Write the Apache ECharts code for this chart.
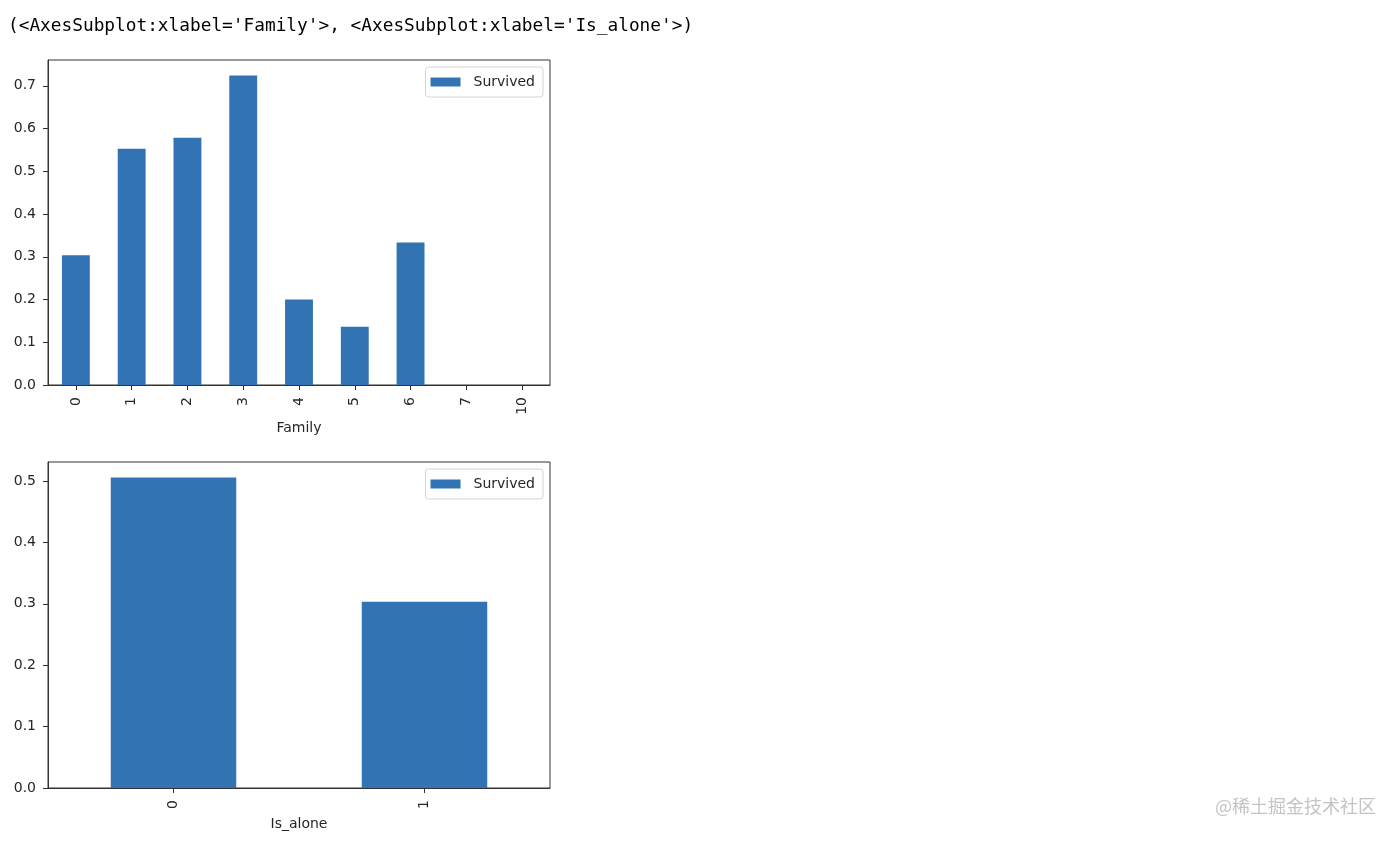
<!DOCTYPE html>
<html>
<head>
<meta charset="utf-8">
<script src="https://cdn.jsdelivr.net/npm/echarts@6/dist/echarts.min.js"></script>
<style>html,body{margin:0;padding:0;background:#fff;}#c{width:1399px;height:842px;}</style>
</head>
<body>
<div id="c"></div>
<script>
// Data
const familyCats = ['0','1','2','3','4','5','6','7','10'];
const familySurvived = [0.3035, 0.5528, 0.5784, 0.7241, 0.2, 0.1364, 0.3333, 0, 0];
const aloneCats = ['0','1'];
const aloneSurvived = [0.5056, 0.3035];
const yTicksTop = [0, 0.1, 0.2, 0.3, 0.4, 0.5, 0.6, 0.7];
const yTicksBottom = [0, 0.1, 0.2, 0.3, 0.4, 0.5];
const seriesName = 'Survived';
const headerText = "(<AxesSubplot:xlabel='Family'>, <AxesSubplot:xlabel='Is_alone'>)";
const watermark = '@稀土掘金技术社区';

const barColor = '#3274b3';
const font = 'DejaVu Sans';
const txt = '#262626';

function xAxis(gridIndex, cats, name, gap) {
  return {
    type: 'category', gridIndex, data: cats, name, nameLocation: 'middle', nameGap: gap,
    nameTextStyle: {fontFamily: font, fontSize: 14, color: txt},
    boundaryGap: true,
    axisLine: {show: true, lineStyle: {color: '#333', width: 1}},
    axisTick: {show: true, alignWithLabel: true, length: 5, lineStyle: {color: '#333'}},
    axisLabel: {rotate: 90, margin: 12, fontFamily: font, fontSize: 14, color: txt, interval: 0},
    splitLine: {show: false}
  };
}
function yAxis(gridIndex, max, ticks) {
  return {
    type: 'value', gridIndex, min: 0, max, interval: 0.1,
    axisLine: {show: true, lineStyle: {color: '#333', width: 1}},
    axisTick: {show: true, length: 5, lineStyle: {color: '#333'}, customValues: ticks},
    axisLabel: {margin: 12, fontFamily: font, fontSize: 14, color: txt, customValues: ticks,
      formatter: v => v.toFixed(1)},
    splitLine: {show: false}
  };
}
function legend(top) {
  return {
    data: [seriesName], right: 856, top, orient: 'vertical',
    backgroundColor: 'rgba(255,255,255,0.8)', borderColor: '#d5d5d5', borderWidth: 1, borderRadius: 3,
    padding: [8, 8, 8, 5], itemWidth: 30, itemHeight: 9, icon: 'rect',
    textStyle: {fontFamily: font, fontSize: 14, color: txt, padding: [0, 0, 0, 8]},
    selectedMode: false
  };
}

const chart = echarts.init(document.getElementById('c'), null, {renderer: 'canvas'});
chart.setOption({
  animation: false,
  backgroundColor: '#fff',
  grid: [
    {left: 48, top: 60, width: 502, height: 325, show: true, borderColor: '#333', borderWidth: 1, backgroundColor: 'transparent'},
    {left: 48, top: 462, width: 502, height: 326, show: true, borderColor: '#333', borderWidth: 1, backgroundColor: 'transparent'}
  ],
  xAxis: [xAxis(0, familyCats, 'Family', 36), xAxis(1, aloneCats, 'Is_alone', 29)],
  yAxis: [yAxis(0, 0.7603, yTicksTop), yAxis(1, 0.5309, yTicksBottom)],
  legend: [legend(67), legend(469)],
  series: [
    {type: 'bar', name: seriesName, xAxisIndex: 0, yAxisIndex: 0, data: familySurvived, barWidth: '50%', itemStyle: {color: barColor}},
    {type: 'bar', name: seriesName, xAxisIndex: 1, yAxisIndex: 1, data: aloneSurvived, barWidth: '50%', itemStyle: {color: barColor}}
  ],
  graphic: [
    {type: 'text', left: 8, top: 17, style: {text: headerText, font: '17.8px "DejaVu Sans Mono", monospace', fill: '#000'}},
    {type: 'text', left: 1215, top: 797, style: {text: watermark, font: '18px "Noto Sans CJK SC", sans-serif', fill: '#c4c4c4'}}
  ]
});
</script>
</body>
</html>
